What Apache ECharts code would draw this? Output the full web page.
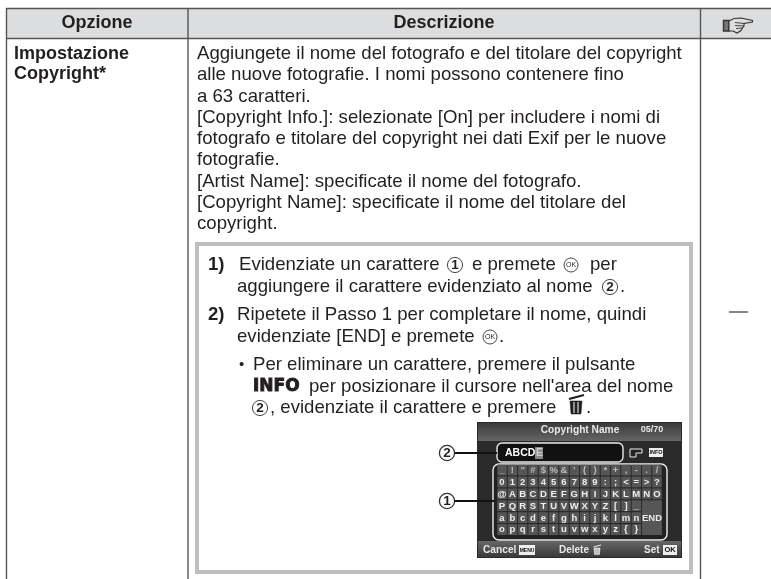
<!DOCTYPE html>
<html><head><meta charset="utf-8">
<style>html,body{margin:0;padding:0;background:#fff}#c{width:771px;height:579px}</style>
<script src="https://cdn.jsdelivr.net/npm/echarts@6/dist/echarts.min.js"></script>
</head><body><div id="c"></div>
<script>
const headers = ['Opzione', 'Descrizione'];
const optionLines = ['Impostazione', 'Copyright*'];
const descLines = [
 'Aggiungete il nome del fotografo e del titolare del copyright',
 'alle nuove fotografie. I nomi possono contenere fino',
 'a 63 caratteri.',
 '[Copyright Info.]: selezionate [On] per includere i nomi di',
 'fotografo e titolare del copyright nei dati Exif per le nuove',
 'fotografie.',
 '[Artist Name]: specificate il nome del fotografo.',
 '[Copyright Name]: specificate il nome del titolare del',
 'copyright.'];
const kbRows = [
 ['_','!','"','#','$','%','&',"'",'(',')','*','+',',','-','.','/'],
 ['0','1','2','3','4','5','6','7','8','9',':',';','<','=','>','?'],
 ['@','A','B','C','D','E','F','G','H','I','J','K','L','M','N','O'],
 ['P','Q','R','S','T','U','V','W','X','Y','Z','[',']','_'],
 ['a','b','c','d','e','f','g','h','i','j','k','l','m','n'],
 ['o','p','q','r','s','t','u','v','w','x','y','z','{','}']];

const INK = '#231f20', SANS = '"Liberation Sans", Arial, sans-serif', BODY = 18.6;
const els = [];
const T = (x, y, text, o = {}) => els.push({type:'text', z:o.z||5, silent:true, style:{
  x, y, text, fill:o.fill||INK, fontSize:o.size||BODY, fontFamily:o.family||SANS, fontWeight:o.weight||'normal',
  textAlign:o.align||'left', textVerticalAlign:'middle', stroke:o.stroke, lineWidth:o.sw||0}});
const R = (x, y, w, h, fill, o = {}) => els.push({type:'rect', z:o.z||1, silent:true,
  shape:{x, y, width:w, height:h, r:o.r||0}, style:{fill, stroke:o.stroke, lineWidth:o.sw||0}});
const L = (x1, y1, x2, y2, stroke, w, z) => els.push({type:'line', z:z||3, silent:true,
  shape:{x1, y1, x2, y2}, style:{stroke, lineWidth:w}});
const C = (cx, cy, r, o = {}) => els.push({type:'circle', z:o.z||4, silent:true, shape:{cx, cy, r},
  style:{fill:o.fill||'#fff', stroke:o.stroke||INK, lineWidth:o.sw||0.9}});
const PG = (points, o = {}) => els.push({type:'polygon', z:o.z||6, silent:true, shape:{points},
  style:{fill:o.fill||'none', stroke:o.stroke||INK, lineWidth:o.sw||1}});
const num = (cx, cy, n, z, sw) => { C(cx, cy, 7.6, {z:z||4, stroke:'#333', sw:sw||0.9}); T(cx, cy+0.5, n, {size:13.5, weight:'bold', align:'center', z:(z||4)+1}); };
const ok = (cx, cy) => { C(cx, cy, 7, {stroke:'#333'}); T(cx, cy+0.5, 'OK', {size:7, align:'center'}); };
const trash = (cx, cy, col, s, z) => {
  L(cx-7*s, cy-6*s, cx+8*s, cy-10*s, col, 2.2*s, z||6);
  PG([[cx-6*s,cy-4*s],[cx+6*s,cy-4*s],[cx+5*s,cy+9*s],[cx-5*s,cy+9*s]], {fill:col, stroke:col, sw:0.5, z:z||6});
  const slit = col === '#e8e8e8' ? '#444' : '#fff';
  [-2, 2].forEach(d => L(cx+d*s, cy-3*s, cx+d*s, cy+8*s, slit, 1*s, (z||6)+1));
};

// table
R(6, 8, 765, 30, '#dcddde');
L(6, 8.5, 771, 8.5, '#555', 1.4);
L(6, 38.5, 771, 38.5, '#555', 1.4);
[6.5, 188, 700.5].forEach(x => L(x, 8, x, 579, '#555', 1.4));
T(97, 23, headers[0], {size:18, weight:'bold', align:'center'});
T(444, 23, headers[1], {size:18, weight:'bold', align:'center'});
optionLines.forEach((s, i) => T(14, 54 + i*20.5, s, {size:18, weight:'bold'}));
descLines.forEach((s, i) => T(197, 54 + i*21.25, s));

// hand reference icon
PG([[723.5,20.5],[729,20.5],[729,31],[723.5,31]], {stroke:'#333', fill:'#777', sw:1.4});
PG([[729,21],[734,18.5],[741,18],[752.5,20.5],[752.5,22],[744,23.5],[744,26],[742.5,28],[741,30.5],[737,33],[733,31],[729,31]], {stroke:'#333', fill:'#dcddde', sw:1.1});
L(735, 22.5, 744, 23.5, '#333', 0.9, 7);
L(735, 25.5, 744, 26, '#333', 0.9, 7);
L(736, 28.5, 742.5, 28, '#333', 0.9, 7);
L(729, 312, 748, 312, INK, 1.1);

// inner box
R(197, 244, 494, 328, '#fff', {stroke:'#bcbec0', sw:4, z:2});
T(208, 265, '1)', {weight:'bold'});
T(239, 265, 'Evidenziate un carattere');
num(455, 265, '1');
T(472, 265, 'e premete');
ok(571, 265);
T(590, 265, 'per');
T(237, 287, 'aggiungere il carattere evidenziato al nome');
num(610, 287, '2');
T(620, 287, '.');
T(208, 315, '2)', {weight:'bold'});
T(237, 315, 'Ripetete il Passo 1 per completare il nome, quindi');
T(237, 337, 'evidenziate [END] e premete');
ok(490, 337);
T(499, 337, '.');
T(239, 365, '•', {size:15});
T(253, 365, 'Per eliminare un carattere, premere il pulsante');
T(253, 387, 'INFO', {family:'"DejaVu Sans"', weight:'bold', size:17, stroke:INK, sw:0.9});
T(309, 387, "per posizionare il cursore nell'area del nome");
num(260, 408, '2');
T(270, 408, ', evidenziate il carattere e premere');
trash(576, 405, INK, 1);
T(586, 408, '.');

// leader lines
num(447, 453, '2', 8, 1.3);
num(447, 501, '1', 8, 1.3);
L(455, 453, 497, 453, '#111', 1.8, 8);
L(455, 501, 494, 501, '#111', 1.8, 8);

// camera screen
const grad = (a, b) => ({type:'linear', x:0, y:0, x2:0, y2:1, colorStops:[{offset:0, color:a},{offset:1, color:b}]});
R(477, 422, 205, 136, '#2a2a2a', {z:4});
R(478, 423, 203, 18, grad('#3a3a3a', '#666'), {z:4});
R(478, 541, 203, 16, grad('#666', '#3a3a3a'), {z:4});
const W = {fill:'#e8e8e8', weight:'bold', z:8};
T(580, 430, 'Copyright Name', {...W, size:10.2, align:'center'});
T(652, 430, '05/70', {...W, size:9, align:'center'});
R(497, 443, 126, 19, '#111', {z:5, r:5, stroke:'#e8e8e8', sw:1.4});
T(505, 453, 'ABCD', {...W, size:10.5, fill:'#fff'});
R(535, 447, 8, 12, '#888', {z:6});
T(536, 453, 'E', {...W, size:10.5, fill:'#ccc'});
PG([[630,449],[642,449],[642,453],[636,453],[636,457],[630,457]], {stroke:'#eee', fill:'#222', sw:1, z:8});
R(649, 448, 14, 9, '#eee', {z:7});
T(656, 452.8, 'INFO', {size:5.5, weight:'bold', fill:'#111', align:'center', z:8});

// keyboard
R(493, 464, 174, 76, '#222', {z:5, r:6, stroke:'#eee', sw:1.4});
const kx = i => 502 + i*10.33, ky = j => 470 + j*11.9;
kbRows.forEach((row, j) => row.forEach((ch, i) => {
  R(kx(i)-4.7, ky(j)-5.4, 9.5, 10.9, '#565656', {z:6});
  T(kx(i), ky(j)+0.3, ch, {...W, size:9.5, align:'center', fill: j===0 ? '#bbb' : '#eee'});
}));
R(kx(14)-4.7, ky(3)-5.4, 20, 34.7, '#565656', {z:6});
T(652, 518, 'END', {...W, size:9.5, align:'center'});

// bottom bar
T(483, 550, 'Cancel', {...W, size:10.2});
R(519, 545, 16, 10, '#eee', {z:7});
T(527, 550.3, 'MENU', {size:5, weight:'bold', fill:'#111', align:'center', z:8});
T(559, 550, 'Delete', {...W, size:10});
trash(597, 550, '#e8e8e8', 0.5, 9);
T(644, 550, 'Set', {...W, size:10});
R(663, 545, 14, 10, '#eee', {z:7});
T(670, 550.3, 'OK', {size:7.5, weight:'bold', fill:'#111', align:'center', z:8});

const chart = echarts.init(document.getElementById('c'), null, {renderer:'canvas'});
chart.setOption({animation:false, backgroundColor:'#fff', graphic:{elements:els}});
</script></body></html>
